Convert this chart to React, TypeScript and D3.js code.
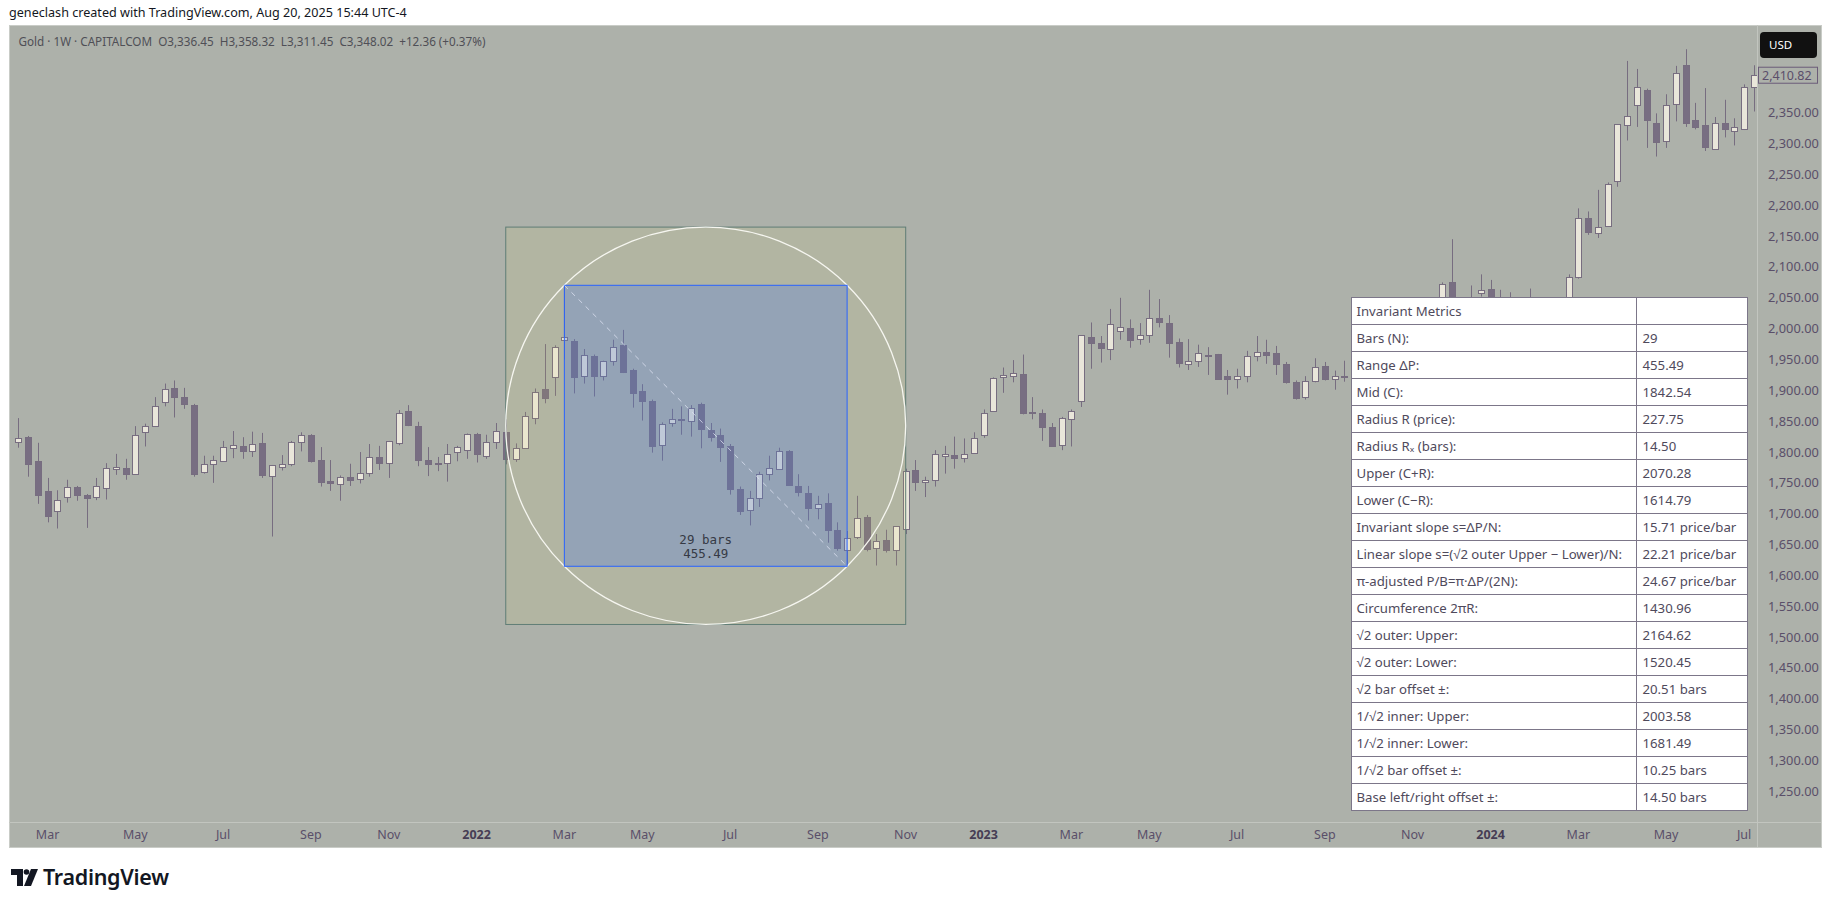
import * as d3 from "d3";

// weekly bars, bar 0 = week of 8 Feb 2021, last bar = week of 8 Jul 2024
const opens = [
  1816, 1824, 1785, 1737, 1704, 1727, 1743, 1730, 1727, 1741, 1773, 1774, 1765, 1832, 1842, 1881, 1903, 1889, 1876, 1767,
  1780, 1785, 1806, 1810, 1801, 1815, 1761, 1776, 1780, 1817, 1828, 1787, 1753, 1748, 1760, 1756, 1766, 1792, 1782, 1814,
  1867, 1842, 1787, 1781, 1782, 1800, 1804, 1829, 1793, 1816, 1833, 1788, 1807, 1855, 1902, 1921, 1982, 1980, 1924, 1956,
  1924, 1947, 1973, 1933, 1899, 1883, 1812, 1847, 1853, 1850, 1878, 1836, 1827, 1810, 1740, 1706, 1725, 1764, 1772, 1802,
  1745, 1733, 1709, 1717, 1674, 1641, 1662, 1694, 1644, 1657, 1641, 1676, 1771, 1751, 1755, 1793, 1795, 1791, 1798, 1827,
  1866, 1921, 1924, 1926, 1864, 1863, 1841, 1811, 1853, 1882, 1986, 1976, 1967, 1996, 2001, 1983, 1989, 2017, 2009, 1978,
  1942, 1947, 1958, 1959, 1923, 1918, 1924, 1955, 1962, 1960, 1942, 1913, 1889, 1915, 1939, 1919, 1923, 1924, 1848, 1850,
  1932, 1981, 2006, 1992, 1940, 1981, 2001, 2075, 2004, 2019, 2057, 2065, 2049, 2049, 2029, 2018, 2039, 2024, 2013, 2035,
  2083, 2180, 2155, 2167, 2240, 2330, 2362, 2387, 2334, 2304, 2364, 2427, 2338, 2330, 2292, 2333, 2321, 2324, 2391,
];
const highs = [
  1855, 1826, 1815, 1758, 1738, 1755, 1745, 1732, 1758, 1782, 1797, 1789, 1842, 1846, 1889, 1911, 1916, 1904, 1878, 1794,
  1794, 1818, 1834, 1824, 1833, 1831, 1779, 1795, 1818, 1832, 1829, 1808, 1787, 1762, 1781, 1800, 1813, 1810, 1818, 1868,
  1876, 1849, 1808, 1792, 1813, 1810, 1830, 1831, 1828, 1847, 1853, 1814, 1865, 1903, 1975, 1973, 2070.28, 1983, 1967, 1958,
  1948, 1982, 1998, 1935, 1910, 1885, 1848, 1870, 1874, 1876, 1880, 1847, 1838, 1813, 1744, 1737, 1768, 1794, 1807, 1803,
  1764, 1745, 1729, 1733, 1686, 1672, 1729, 1698, 1667, 1674, 1680, 1773, 1787, 1760, 1803, 1810, 1825, 1822, 1832, 1869,
  1921, 1937, 1949, 1958, 1889, 1869, 1847, 1857, 1869, 1989, 2010, 1988, 2032, 2050, 2015, 2009, 2063, 2048, 2022, 1984,
  1983, 1974, 1970, 1959, 1933, 1935, 1964, 1988, 1982, 1972, 1946, 1916, 1923, 1952, 1946, 1932, 1948, 1926, 1853, 1933,
  1997, 2009, 2010, 1993, 1993, 2017, 2075, 2145, 2047, 2070, 2088, 2079, 2063, 2059, 2036, 2065, 2048, 2032, 2041, 2088,
  2195, 2190, 2225, 2237, 2331, 2434, 2421, 2389, 2349, 2380, 2426, 2453, 2366, 2390, 2343, 2371, 2341, 2396, 2427,
];
const lows = [
  1807, 1760, 1716, 1686, 1676, 1718, 1721, 1677, 1722, 1723, 1763, 1755, 1765, 1809, 1842, 1874, 1856, 1870, 1760, 1765,
  1750, 1785, 1790, 1789, 1792, 1758, 1663, 1770, 1777, 1801, 1783, 1744, 1737, 1721, 1745, 1749, 1760, 1771, 1758, 1811,
  1842, 1777, 1761, 1769, 1752, 1785, 1789, 1783, 1789, 1805, 1780, 1784, 1807, 1845, 1879, 1891, 1950, 1895, 1911, 1890,
  1916, 1940, 1928, 1872, 1851, 1799, 1786, 1841, 1828, 1825, 1806, 1817, 1784, 1731, 1698, 1681, 1711, 1754, 1772, 1745,
  1728, 1689, 1691, 1653, 1640, 1614.79, 1659, 1639, 1616, 1637, 1616, 1667, 1737, 1727, 1744, 1765, 1773, 1783, 1798, 1823,
  1866, 1896, 1913, 1861, 1853, 1818, 1809, 1803, 1809, 1873, 1935, 1945, 1949, 1982, 1969, 1974, 1977, 2002, 1953, 1937,
  1933, 1938, 1925, 1919, 1893, 1903, 1913, 1947, 1943, 1925, 1911, 1885, 1885, 1913, 1916, 1901, 1914, 1846, 1810, 1846,
  1909, 1953, 1970, 1932, 1931, 1966, 1996, 1993, 1973, 2016, 2052, 2017, 2013, 2002, 2010, 2016, 2015, 1984, 2011, 2024,
  2081, 2152, 2147, 2165, 2230, 2305, 2327, 2293, 2279, 2293, 2336, 2327, 2323, 2288, 2291, 2310, 2297, 2322, 2352,
];
const closes = [
  1822, 1781, 1731, 1697, 1723, 1743, 1731, 1725, 1745, 1774, 1776, 1765, 1828, 1842, 1874, 1902, 1890, 1878, 1765, 1780,
  1787, 1808, 1811, 1801, 1813, 1762, 1779, 1781, 1816, 1827, 1786, 1752, 1749, 1759, 1755, 1766, 1792, 1782, 1818, 1863,
  1844, 1787, 1781, 1782, 1796, 1808, 1829, 1796, 1816, 1834, 1789, 1806, 1858, 1897, 1888, 1970, 1987, 1921, 1957, 1924,
  1947, 1971, 1930, 1896, 1882, 1810, 1845, 1853, 1851.5, 1871, 1838, 1825, 1808, 1740, 1705, 1725, 1764, 1774, 1802, 1746,
  1736, 1710, 1715, 1673, 1644, 1660, 1693, 1642, 1655, 1641, 1680, 1770, 1751, 1755, 1797, 1796.5, 1791, 1796, 1822, 1864,
  1920, 1925, 1928, 1864, 1865, 1841, 1809, 1855, 1866, 1989, 1977, 1969, 2007, 2003, 1982, 1989, 2017, 2010, 1977, 1945,
  1948, 1960, 1957, 1919, 1919, 1924, 1955, 1962, 1958, 1942, 1913, 1888, 1915, 1938, 1918, 1923, 1924, 1848, 1833, 1932,
  1981, 2006, 1992, 1940, 1981, 2001, 2072, 2004, 2019, 2052, 2062, 2049, 2049, 2029, 2018, 2039, 2024, 2013, 2035, 2083,
  2180, 2156, 2165, 2234, 2331, 2345, 2392, 2339, 2303, 2362, 2415, 2334, 2327, 2295, 2334, 2323, 2327, 2392, 2410.82,
];

// 2,400 sits under the last-price tag, so it is left out
const priceTicks = [
  1250, 1300, 1350, 1400, 1450, 1500, 1550, 1600, 1650, 1700, 1750, 1800, 1850, 1900, 1950, 2000, 2050, 2100, 2150,
  2200, 2250, 2300, 2350,
];
const timeTickBars = [3, 12, 21, 30, 38, 47, 56, 64, 73, 82, 91, 99, 108, 116, 125, 134, 143, 151, 160, 169, 177];
const timeTickLabels = [
  "Mar", "May", "Jul", "Sep", "Nov", "2022", "Mar", "May", "Jul", "Sep", "Nov", "2023", "Mar", "May", "Jul", "Sep",
  "Nov", "2024", "Mar", "May", "Jul",
];

// measure: bar 56 -> bar 85, high 2070.28 -> low 1614.79
const rangeStart = 56;
const rangeBars = 29;
const upper = 2070.28;
const lower = 1614.79;
const mid = 1842.54;
const outerUpper = 2164.62;
const outerLower = 1520.45;
const outerBarOffset = 20.51;

const tableLabels = [
  "Invariant Metrics",
  "Bars (N):",
  "Range ΔP:",
  "Mid (C):",
  "Radius R (price):",
  "Radius Rₓ (bars):",
  "Upper (C+R):",
  "Lower (C−R):",
  "Invariant slope s=ΔP/N:",
  "Linear slope s=(√2 outer Upper − Lower)/N:",
  "π-adjusted P/B=π·ΔP/(2N):",
  "Circumference 2πR:",
  "√2 outer: Upper:",
  "√2 outer: Lower:",
  "√2 bar offset ±:",
  "1/√2 inner: Upper:",
  "1/√2 inner: Lower:",
  "1/√2 bar offset ±:",
  "Base left/right offset ±:",
];
const tableValues = [
  "", "29", "455.49", "1842.54", "227.75", "14.50", "2070.28", "1614.79", "15.71 price/bar", "22.21 price/bar",
  "24.67 price/bar", "1430.96", "2164.62", "1520.45", "20.51 bars", "2003.58", "1681.49", "10.25 bars", "14.50 bars",
];

const BG = "#adb1aa";
const UP = "#e9e6da";
const DOWN = "#786e82";
const WICK = "#776d80";
const AXIS_TXT = "#5a4f69";
const FONT = "'Noto Sans', sans-serif";

export default function App() {
  const left = 9, top = 25, plotRight = 1757, chartRight = 1821, plotBottom = 822, chartBottom = 847;

  const x = d3.scaleLinear().domain([0, 178]).range([18.35, 1753.85]);
  const y = d3.scaleLinear().domain([1250, 2400]).range([791.3, 81.9]);

  const fmt = d3.format(",.2f");

  const cx = x(rangeStart + rangeBars / 2);
  const cy = y(mid);
  const rx = x(rangeStart + rangeBars / 2 + outerBarOffset) - cx;
  const ry = y(outerLower) - cy;

  const tblX = 1351.5, tblDiv = 1636.5, tblR = 1747.5, tblTop = 297.5, rowH = 27;
  const lastClose = closes[closes.length - 1];

  return (
    <svg width={1833} height={908} style={{ position: "absolute", left: 0, top: 0, background: "#fff" }}>
      <defs>
        <clipPath id="plot">
          <rect x={left} y={top} width={plotRight - left} height={plotBottom - top} />
        </clipPath>
      </defs>

      <text x={9} y={17} fontFamily={FONT} fontSize={12.6} fill="#131722">
        geneclash created with TradingView.com, Aug 20, 2025 15:44 UTC-4
      </text>

      <rect x={left + 0.5} y={top + 0.5} width={chartRight - left} height={chartBottom - top} fill={BG} stroke="#c9ccc7" />

      <g clipPath="url(#plot)">
        {opens.map((o, i) => {
          const c = closes[i];
          const bx = Math.round(x(i)) - 3;
          const yt = Math.round(y(Math.max(o, c)));
          const yb = Math.round(y(Math.min(o, c)));
          return (
            <g key={i}>
              <line x1={bx + 3.5} x2={bx + 3.5} y1={y(highs[i])} y2={y(lows[i])} stroke={WICK} strokeWidth={1} />
              <rect
                x={bx + 0.5}
                y={yt + 0.5}
                width={6}
                height={Math.max(1, yb - yt)}
                fill={c >= o ? UP : DOWN}
                stroke={WICK}
                strokeWidth={1}
              />
            </g>
          );
        })}

        {/* sqrt2 outer square */}
        <rect
          x={x(rangeStart + rangeBars / 2 - outerBarOffset)}
          y={y(outerUpper)}
          width={x(rangeStart + rangeBars / 2 + outerBarOffset) - x(rangeStart + rangeBars / 2 - outerBarOffset)}
          height={y(outerLower) - y(outerUpper)}
          fill="rgba(255,235,59,0.07)"
          stroke="#5f7d76"
          strokeWidth={1}
        />
        <ellipse cx={cx} cy={cy} rx={rx} ry={ry} fill="none" stroke="#f6f6f0" strokeWidth={1.3} />

        {/* date/price range */}
        <rect
          x={x(rangeStart)}
          y={y(upper)}
          width={x(rangeStart + rangeBars) - x(rangeStart)}
          height={y(lower) - y(upper)}
          fill="rgba(41,98,255,0.22)"
          stroke="#2962ff"
          strokeWidth={1}
        />
        <line
          x1={x(rangeStart)}
          y1={y(upper)}
          x2={x(rangeStart + rangeBars)}
          y2={y(lower)}
          stroke="rgba(225,230,245,0.75)"
          strokeWidth={1}
          strokeDasharray="5,5"
        />
        <text x={cx} y={544} textAnchor="middle" fontFamily="'DejaVu Sans Mono', monospace" fontSize={12.5} fill="#363a45">
          {rangeBars} bars
        </text>
        <text x={cx} y={558} textAnchor="middle" fontFamily="'DejaVu Sans Mono', monospace" fontSize={12.5} fill="#363a45">
          {(upper - lower).toFixed(2)}
        </text>
      </g>

      <text x={18.5} y={46} fontFamily={FONT} fontSize={11.7} fill="#4f4f56" style={{ whiteSpace: "pre" }}>
        {"Gold · 1W · CAPITALCOM  O3,336.45  H3,358.32  L3,311.45  C3,348.02  +12.36 (+0.37%)"}
      </text>

      {/* metrics table */}
      <g fontFamily={FONT} fontSize={13.2} fill="#4f4a5c">
        <rect x={tblX} y={tblTop} width={tblR - tblX} height={rowH * tableLabels.length} fill="#fff" stroke="#7c7689" />
        {tableLabels.map((l, r) => (
          <g key={r}>
            {r > 0 && <line x1={tblX} x2={tblR} y1={tblTop + r * rowH} y2={tblTop + r * rowH} stroke="#7c7689" />}
            <text x={tblX + 5} y={tblTop + r * rowH + 18}>{l}</text>
            <text x={tblDiv + 6} y={tblTop + r * rowH + 18}>{tableValues[r]}</text>
          </g>
        ))}
        <line x1={tblDiv} x2={tblDiv} y1={tblTop} y2={tblTop + rowH * tableLabels.length} stroke="#7c7689" />
      </g>

      {/* axes */}
      <line x1={plotRight + 0.5} x2={plotRight + 0.5} y1={top} y2={chartBottom} stroke="#c2c5bf" />
      <line x1={left} x2={chartRight} y1={plotBottom + 0.5} y2={plotBottom + 0.5} stroke="#c2c5bf" />

      <g fontFamily={FONT} fontSize={12.8} fill={AXIS_TXT}>
        {priceTicks.map((p) => (
          <text key={p} x={1768} y={y(p) + 4.5}>
            {fmt(p)}
          </text>
        ))}
      </g>
      <g fontFamily={FONT} fontSize={12.5} fill={AXIS_TXT}>
        {timeTickBars.map((b, k) => {
          const isYear = /^\d+$/.test(timeTickLabels[k]);
          return (
            <text
              key={k}
              x={x(b)}
              y={839}
              textAnchor="middle"
              fontWeight={isYear ? 700 : 400}
              fill={isYear ? "#463d54" : AXIS_TXT}
            >
              {timeTickLabels[k]}
            </text>
          );
        })}
      </g>

      {/* last price tag */}
      <rect x={1758.5} y={y(lastClose) - 8} width={59} height={16} fill={BG} stroke="#6b5c78" />
      <text x={1762} y={y(lastClose) + 4.5} fontFamily={FONT} fontSize={12.5} fill="#5b4e6b">
        {fmt(lastClose)}
      </text>

      <rect x={1760} y={32} width={57} height={26} rx={4} fill="#111" />
      <text x={1769} y={49} fontFamily={FONT} fontSize={11.5} fill="#fff">
        USD
      </text>

      {/* logo */}
      <g fill="#131722">
        <path d="M11,869 h12 v17 h-6 v-11 h-6 z" />
        <circle cx={26.5} cy={872} r={2.8} />
        <path d="M31,869 h7 l-7,17 h-7 z" />
        <text x={43} y={885} fontFamily={FONT} fontSize={21.5} fontWeight={600} letterSpacing={-0.3}>
          TradingView
        </text>
      </g>
    </svg>
  );
}
